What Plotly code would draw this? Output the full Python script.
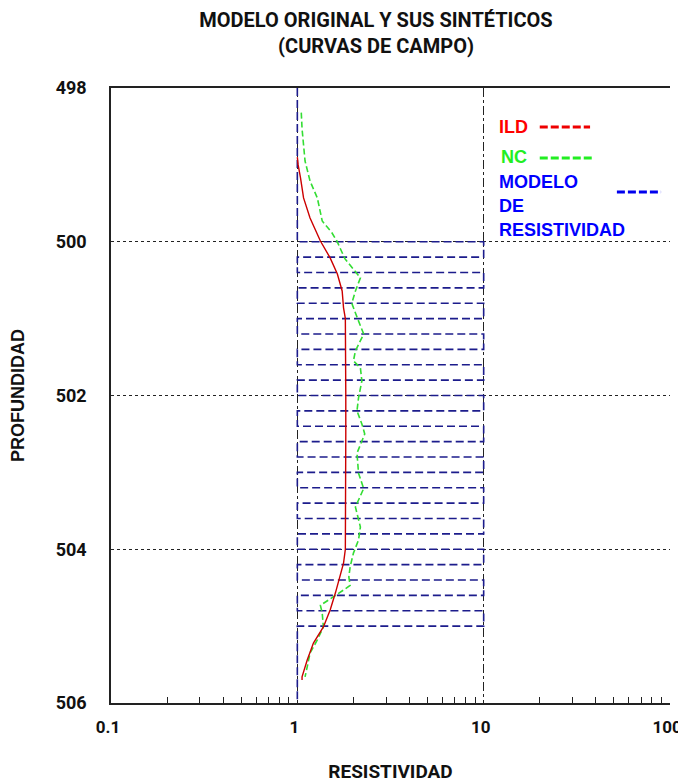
import plotly.graph_objects as go

# ---------------- data ----------------
ild_depth = [498.90, 499.00, 499.17, 499.43, 499.69, 499.99, 500.21, 500.42, 500.64, 500.86,
             501.00, 501.50, 502.00, 502.50, 503.00, 503.50, 504.00, 504.18, 504.35, 504.57,
             504.79, 505.01, 505.22, 505.44, 505.66, 505.70]
ild_res = [1.00, 1.01, 1.04, 1.08, 1.17, 1.33, 1.50, 1.64, 1.74, 1.77,
           1.81, 1.82, 1.82, 1.82, 1.82, 1.82, 1.81, 1.77, 1.70, 1.60,
           1.50, 1.38, 1.22, 1.13, 1.06, 1.06]

nc_depth = [498.32, 498.53, 498.95, 499.21, 499.43, 499.73, 499.88, 499.99, 500.22, 500.47,
            500.64, 500.80, 500.98, 501.20, 501.42, 501.55, 501.64, 501.81, 502.03, 502.20,
            502.37, 502.50, 502.75, 503.01, 503.21, 503.45, 503.71, 503.88, 504.05, 504.23,
            504.36, 504.47, 504.53, 504.62, 504.73, 504.83, 505.01, 505.18, 505.35, 505.53,
            505.66]
nc_res = [1.05, 1.06, 1.10, 1.17, 1.28, 1.36, 1.53, 1.63, 1.80, 2.18,
          2.05, 1.96, 2.09, 2.27, 2.05, 2.00, 2.18, 2.22, 2.13, 2.09,
          2.22, 2.30, 2.09, 2.13, 2.27, 2.05, 2.18, 2.13, 2.00, 1.92,
          1.89, 1.92, 1.77, 1.56, 1.33, 1.36, 1.38, 1.28, 1.17, 1.13,
          1.10]

# resistivity model: layer tops / bottoms and resistivities
model_top = [498.0, 500.0, 500.2, 500.4, 500.6, 500.8, 501.0, 501.2, 501.4, 501.6, 501.8,
             502.0, 502.2, 502.4, 502.6, 502.8, 503.0, 503.2, 503.4, 503.6, 503.8,
             504.0, 504.2, 504.4, 504.6, 504.8, 505.0]
model_bot = [500.0, 500.2, 500.4, 500.6, 500.8, 501.0, 501.2, 501.4, 501.6, 501.8, 502.0,
             502.2, 502.4, 502.6, 502.8, 503.0, 503.2, 503.4, 503.6, 503.8, 504.0,
             504.2, 504.4, 504.6, 504.8, 505.0, 506.0]
model_res = [1, 10, 1, 10, 1, 10, 1, 10, 1, 10, 1,
             10, 1, 10, 1, 10, 1, 10, 1, 10, 1,
             10, 1, 10, 1, 10, 1]

x_tickvals = [0.1, 1, 10, 100]
x_ticktext = ["0.1", "1", "10", "100"]
x_minor = [0.2, 0.3, 0.4, 0.5, 0.6, 0.7, 0.8, 0.9,
           2, 3, 4, 5, 6, 7, 8, 9,
           20, 30, 40, 50, 60, 70, 80, 90]
y_tickvals = [498, 500, 502, 504, 506]
y_ticktext = ["498", "500", "502", "504", "506"]

# step path of the model
mx, my = [], []
for t, b, r in zip(model_top, model_bot, model_res):
    mx += [r, r]
    my += [t, b]

NARROW = "Roboto, Liberation Sans Narrow, DejaVu Sans Condensed, sans-serif"
SANS = "Liberation Sans, Arial, sans-serif"

fig = go.Figure()
fig.add_trace(go.Scatter(x=mx, y=my, mode="lines",
                         line=dict(color="#1c1c8c", width=1.6, dash="8px,4px"),
                         showlegend=False, hoverinfo="skip"))
fig.add_trace(go.Scatter(x=nc_res, y=nc_depth, mode="lines",
                         line=dict(color="#33dd33", width=1.6, dash="6px,3px"),
                         showlegend=False))
fig.add_trace(go.Scatter(x=ild_res, y=ild_depth, mode="lines",
                         line=dict(color="#cc0000", width=1.4),
                         showlegend=False))

fig.update_layout(
    width=686, height=775,
    margin=dict(l=103, r=24, t=80, b=80, autoexpand=False),
    paper_bgcolor="white", plot_bgcolor="white",
    title=dict(text="MODELO ORIGINAL Y SUS SINTÉTICOS<br>(CURVAS DE CAMPO)",
               x=368 / 686, xref="container", xanchor="center",
               y=0.975, yref="container", yanchor="top",
               font=dict(family=NARROW, size=20, color="#111", weight="bold")),
    xaxis=dict(type="log", range=[-1, 2], automargin=False,
               tickvals=x_tickvals, ticktext=x_ticktext,
               ticks="", showline=True, linecolor="#222", linewidth=1.5,
               mirror=True,
               showgrid=True, gridcolor="#222", gridwidth=1, griddash="dashdot",
               zeroline=False,
               tickfont=dict(family=NARROW, size=17, color="#111", weight="bold"),
               ticklabelstandoff=8, ticklabelshift=-3,
               minor=dict(tickvals=x_minor, ticks="inside", ticklen=6,
                          tickcolor="#222", showgrid=False),
               title=dict(text="RESISTIVIDAD", standoff=36,
                          font=dict(family=NARROW, size=19, color="#111", weight="bold"))),
    yaxis=dict(range=[506, 498], tickvals=y_tickvals, ticktext=y_ticktext, automargin=False,
               ticks="", showline=True, linecolor="#222", linewidth=1.5,
               showgrid=True, gridcolor="#222", gridwidth=1, griddash="dot",
               zeroline=False,
               tickfont=dict(family=NARROW, size=18, color="#111", weight="bold"),
               ticklabelstandoff=19,
               title=dict(text="PROFUNDIDAD", standoff=30,
                          font=dict(family=SANS, size=18, color="#111", weight="bold"))),
)

# custom legend
leg_font = dict(family=SANS, size=18, weight="bold")
fig.add_annotation(text="ILD", x=0.690, y=0.9367, xref="paper", yref="paper",
                   xanchor="left", yanchor="middle", showarrow=False,
                   font=dict(color="#ff0000", **leg_font))
fig.add_annotation(text="NC", x=0.694, y=0.888, xref="paper", yref="paper",
                   xanchor="left", yanchor="middle", showarrow=False,
                   font=dict(color="#22ee22", **leg_font))
for txt, yy in [("MODELO", 0.847), ("DE", 0.808), ("RESISTIVIDAD", 0.769)]:
    fig.add_annotation(text=txt, x=0.690, y=yy, xref="paper", yref="paper",
                       xanchor="left", yanchor="middle", showarrow=False,
                       font=dict(color="#0000ff", **leg_font))
fig.add_shape(type="line", xref="paper", yref="paper", x0=0.767, x1=0.857, y0=0.9367, y1=0.9367,
              line=dict(color="#ee0000", width=3, dash="8px,3px"))
fig.add_shape(type="line", xref="paper", yref="paper", x0=0.767, x1=0.860, y0=0.886, y1=0.886,
              line=dict(color="#22ee22", width=3, dash="8px,3px"))
fig.add_shape(type="line", xref="paper", yref="paper", x0=0.905, x1=0.984, y0=0.831, y1=0.831,
              line=dict(color="#0000ee", width=3, dash="8px,3px"))

fig.write_html("out.html",
               post_script="document.documentElement.style.overflow='hidden';"
                           "document.body.style.overflow='hidden';")
